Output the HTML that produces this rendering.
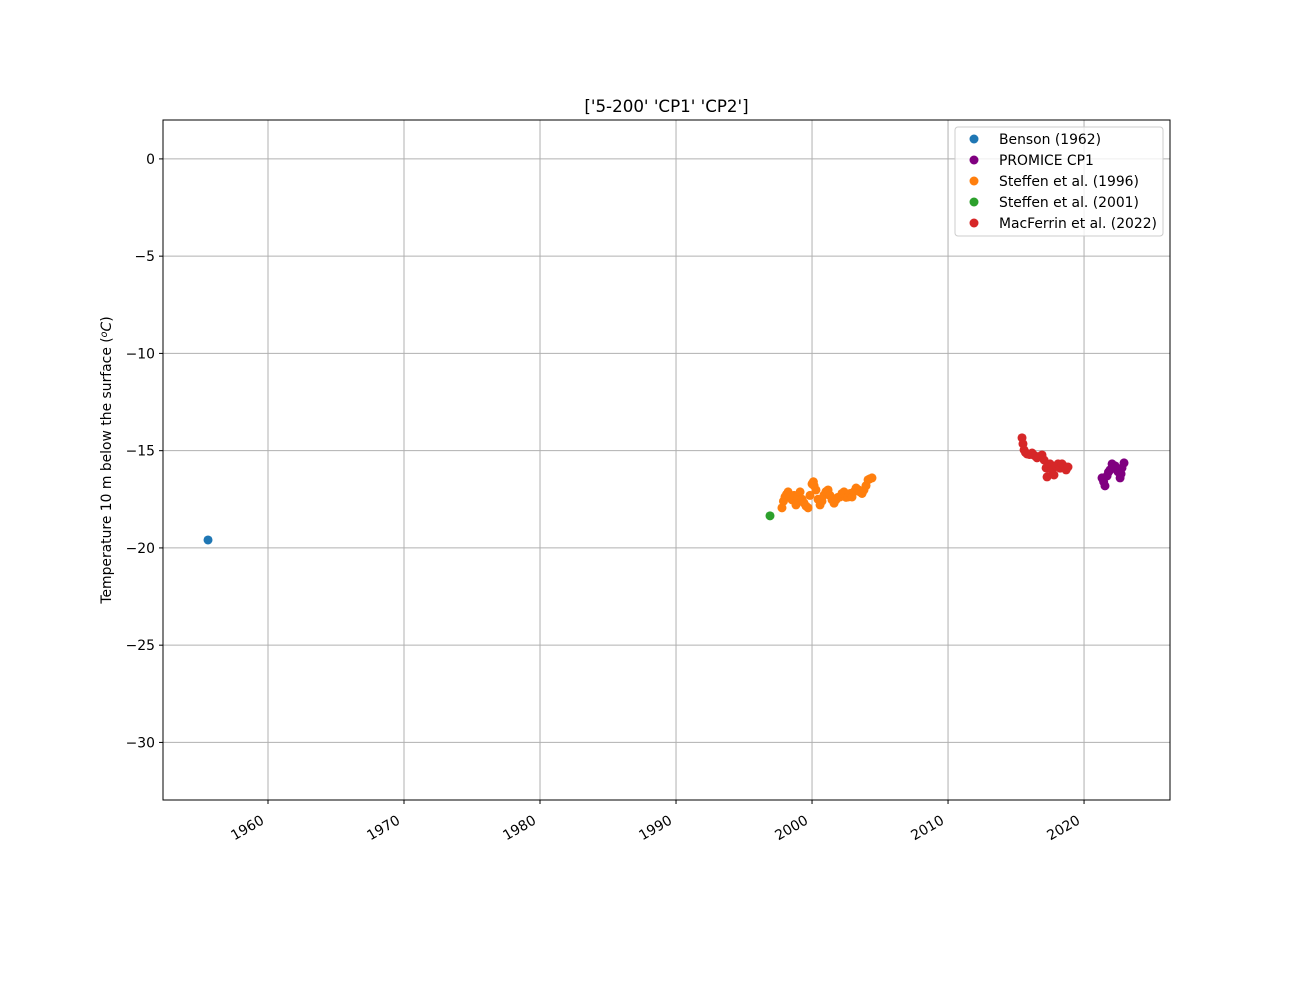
<!DOCTYPE html>
<html><head><meta charset="utf-8"><style>
body{margin:0;background:#fff;}
text{font-family:"DejaVu Sans","Liberation Sans",sans-serif;}
</style></head><body>
<svg id="chart" width="1300" height="1000" xmlns="http://www.w3.org/2000/svg"></svg>
<script>
const bensonYears=[1955.59];
const bensonTemps=[-19.59];
const steffen01Years=[1996.91];
const steffen01Temps=[-18.35];
const steffen96Years=[1997.79,1997.9,1998.01,1998.12,1998.24,1998.38,1998.53,1998.68,1998.82,1998.97,1999.12,1999.27,1999.41,1999.56,1999.71,1999.85,2000.0,2000.1,2000.15,2000.29,2000.44,2000.59,2000.73,2000.88,2001.03,2001.18,2001.32,2001.47,2001.62,2001.76,2001.9,2002.06,2002.2,2002.35,2002.5,2002.65,2002.8,2002.94,2003.1,2003.24,2003.38,2003.53,2003.68,2003.82,2003.97,2004.12,2004.25,2004.41];
const steffen96Temps=[-17.94,-17.6,-17.38,-17.25,-17.12,-17.4,-17.53,-17.3,-17.79,-17.4,-17.12,-17.5,-17.69,-17.85,-17.94,-17.3,-16.71,-16.6,-16.8,-17.02,-17.5,-17.79,-17.6,-17.28,-17.1,-17.02,-17.3,-17.53,-17.7,-17.53,-17.4,-17.38,-17.2,-17.12,-17.4,-17.38,-17.2,-17.38,-17.1,-16.92,-17.0,-17.12,-17.2,-17.02,-16.8,-16.5,-16.45,-16.4];
const macYears=[2015.44,2015.51,2015.59,2015.7,2015.81,2016.0,2016.18,2016.36,2016.54,2016.72,2016.91,2017.06,2017.21,2017.28,2017.4,2017.5,2017.65,2017.79,2017.95,2018.09,2018.24,2018.38,2018.53,2018.68,2018.82];
const macTemps=[-14.34,-14.65,-14.96,-15.1,-15.17,-15.2,-15.12,-15.25,-15.37,-15.3,-15.22,-15.48,-15.89,-16.35,-15.9,-15.68,-16.0,-16.25,-15.8,-15.68,-15.9,-15.68,-15.8,-15.99,-15.84];
const promiceYears=[2021.32,2021.44,2021.54,2021.69,2021.8,2021.91,2022.06,2022.17,2022.28,2022.5,2022.65,2022.72,2022.79,2022.94];
const promiceTemps=[-16.4,-16.6,-16.81,-16.3,-16.1,-15.99,-15.68,-15.9,-15.78,-16.09,-16.4,-16.2,-15.89,-15.63];
const xTicks=[1960,1970,1980,1990,2000,2010,2020];
const yTicks=[0,-5,-10,-15,-20,-25,-30];

const L=163,R=1170,T=120,B=800;
const X0=1952.28,X1=2026.32,Y0=-32.96,Y1=2.0;
const sx=v=>L+(v-X0)/(X1-X0)*(R-L);
const sy=v=>B-(v-Y0)/(Y1-Y0)*(B-T);
const svg=document.getElementById('chart');
const NS='http://www.w3.org/2000/svg';
function mk(tag,attrs,parent){const e=document.createElementNS(NS,tag);for(const k in attrs)e.setAttribute(k,attrs[k]);(parent||svg).appendChild(e);return e;}

const grid=mk('g',{});


xTicks.forEach(t=>{
  const x=sx(t);
  const l=mk('line',{x1:x,x2:x,y1:T,y2:B,stroke:'#b0b0b0','stroke-width':1},grid);
  
  
  mk('line',{x1:x,x2:x,y1:B,y2:B+4,stroke:'#000'},grid);
  const ax=x-3,ay=B+23;
  const tx=mk('text',{x:ax,y:ay,'text-anchor':'end','font-size':13.9,transform:`rotate(-30 ${ax} ${ay})`},grid);
  tx.textContent=t;
  
  
});
yTicks.forEach(t=>{
  const y=sy(t);
  const l=mk('line',{x1:L,x2:R,y1:y,y2:y,stroke:'#b0b0b0','stroke-width':1},grid);
  
  
  mk('line',{x1:L-4,x2:L,y1:y,y2:y,stroke:'#000'},grid);
  const tx=mk('text',{x:L-8,y:y+5,'text-anchor':'end','font-size':13.9},grid);
  tx.textContent=t===0?'0':'\u2212'+Math.abs(t);
  
  
});

function series(name,xs,ys,color){
  const g=mk('g',{fill:color});
  
  
  xs.forEach((x,i)=>{
    const c=mk('circle',{cx:sx(x),cy:sy(ys[i]),r:4.5},g);
    
    
  });
}
series('series-benson',bensonYears,bensonTemps,'#1f77b4');
series('series-steffen-1996',steffen96Years,steffen96Temps,'#ff7f0e');
series('series-steffen-2001',steffen01Years,steffen01Temps,'#2ca02c');
series('series-macferrin',macYears,macTemps,'#d62728');
series('series-promice',promiceYears,promiceTemps,'#800080');

const frame=mk('rect',{x:L,y:T,width:R-L,height:B-T,fill:'none',stroke:'#000','stroke-width':1});



const title=mk('text',{x:(L+R)/2,y:112,'text-anchor':'middle','font-size':16.7});
title.textContent="['5-200' 'CP1' 'CP2']";



const yl=mk('text',{x:111,y:460,'text-anchor':'middle','font-size':13.9,transform:'rotate(-90 111 460)'});
yl.innerHTML='Temperature 10 m below the surface (<tspan font-style="italic" font-size="9.5" dy="-4">o</tspan><tspan font-style="italic" dy="4">C</tspan>)';



const lg=mk('g',{});


mk('rect',{x:955,y:127,width:208,height:109,rx:3,fill:'#fff','fill-opacity':0.8,stroke:'#ccc'},lg);
const entries=[['Benson (1962)','#1f77b4'],['PROMICE CP1','#800080'],['Steffen et al. (1996)','#ff7f0e'],['Steffen et al. (2001)','#2ca02c'],['MacFerrin et al. (2022)','#d62728']];
entries.forEach((e,i)=>{
  const y=139+i*21;
  const g=mk('g',{},lg);
  
  
  mk('circle',{cx:974,cy:y,r:4.5,fill:e[1]},g);
  const t=mk('text',{x:999,y:y+5,'font-size':13.9},g);
  t.textContent=e[0];
});
</script>
</body></html>
